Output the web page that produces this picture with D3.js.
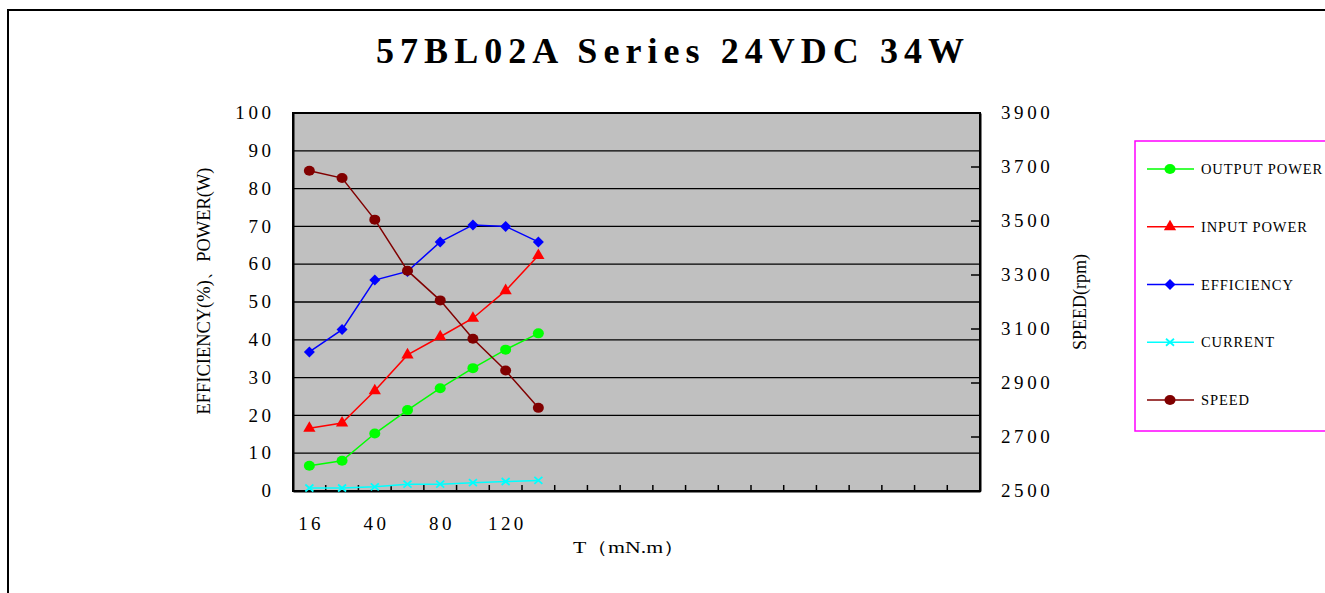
<!DOCTYPE html>
<html><head><meta charset="utf-8">
<script src="https://cdn.jsdelivr.net/npm/d3@7"></script>
<style>
html,body{margin:0;padding:0;background:#fff;}
svg text{font-family:"Liberation Serif","Times New Roman",serif;fill:#000;}
</style></head>
<body><svg id="chart" width="1325" height="593"></svg>
<script>
const title = "57BL02A Series 24VDC 34W";
const categories = ["16","28","40","60","80","100","120","140","","","","","","","","","","","","",""];
const outputPower = [6.7, 8.0, 15.2, 21.4, 27.2, 32.5, 37.4, 41.7];
const inputPower = [16.6, 18.0, 26.5, 36.0, 40.8, 45.7, 53.0, 62.3];
const efficiency = [36.8, 42.7, 55.8, 58.1, 65.9, 70.4, 70.0, 65.9];
const current = [0.8, 0.8, 1.1, 1.8, 1.8, 2.2, 2.5, 2.8];
const speed = [3686, 3659, 3505, 3316, 3206, 3064, 2946, 2808];
const leftTicks = [0,10,20,30,40,50,60,70,80,90,100];
const rightTicks = [2500,2700,2900,3100,3300,3500,3700,3900];
const seriesNames = ["OUTPUT POWER","INPUT POWER","EFFICIENCY","CURRENT","SPEED"];

const svg = d3.select("#chart");
const L = 293, R = 980, T = 113, B = 491;

// outer frame
svg.append("path").attr("d", d3.line()([[8,600],[8,10],[1330,10]]))
  .attr("fill","none").attr("stroke","#000").attr("stroke-width",2);

svg.append("text").attr("x",376).attr("y",63).attr("font-size",36).attr("font-weight","bold")
  .attr("textLength",588).attr("lengthAdjust","spacing").text(title);

const x = d3.scaleBand().domain(d3.range(categories.length)).range([L,R]).paddingInner(0).paddingOuter(0);
const yL = d3.scaleLinear().domain([0,100]).range([B,T]);
const yR = d3.scaleLinear().domain([2500,3900]).range([B,T]);

svg.append("rect").attr("x",L).attr("y",T).attr("width",R-L).attr("height",B-T).attr("fill","#c0c0c0");

// gridlines
svg.append("g").selectAll("line").data(leftTicks).join("line")
  .attr("x1",L).attr("x2",R).attr("y1",d=>yL(d)).attr("y2",d=>yL(d))
  .attr("stroke","#000").attr("stroke-width",1.3);

// left axis
const gl = svg.append("g").attr("transform",`translate(${L},0)`)
  .call(d3.axisLeft(yL).tickValues(leftTicks).tickSize(0).tickPadding(22).tickFormat(d3.format("d")));
gl.select(".domain").attr("stroke","#000").attr("stroke-width",2);
gl.selectAll("text").attr("font-size",19).attr("letter-spacing","3.6px").attr("dx","3.6").attr("dy","0.3em")
  .style("font-family","Liberation Serif");

// right axis
const gr = svg.append("g").attr("transform",`translate(${R},0)`)
  .call(d3.axisRight(yR).tickValues(rightTicks).tickSize(0).tickPadding(21).tickFormat(d3.format("d")));
gr.select(".domain").attr("stroke","#000").attr("stroke-width",2);
gr.selectAll("text").attr("font-size",19).attr("letter-spacing","3.6px").attr("dy","0.3em")
  .style("font-family","Liberation Serif");
svg.append("g").selectAll("line").data(rightTicks.slice(1,-1)).join("line")
  .attr("x1",R-9).attr("x2",R).attr("y1",d=>yR(d)).attr("y2",d=>yR(d))
  .attr("stroke","#000").attr("stroke-width",1.5);

// bottom axis
const gb = svg.append("g").attr("transform",`translate(0,${B})`)
  .call(d3.axisBottom(x).tickSize(0).tickPadding(26).tickFormat((d,i)=> i%2===0 ? categories[i] : ""));
gb.select(".domain").attr("stroke","#000").attr("stroke-width",2);
gb.selectAll("text").attr("font-size",19).attr("letter-spacing","3.4px").attr("dx","1.7")
  .style("font-family","Liberation Serif");
svg.append("g").selectAll("line").data(d3.range(1,categories.length)).join("line")
  .attr("x1",d=>x(d)).attr("x2",d=>x(d)).attr("y1",B).attr("y2",B-6)
  .attr("stroke","#000").attr("stroke-width",1.5);

// plot border
svg.append("rect").attr("x",L).attr("y",T).attr("width",R-L).attr("height",B-T)
  .attr("fill","none").attr("stroke","#000").attr("stroke-width",2);

// axis titles
svg.append("text").attr("transform","translate(210,291) rotate(-90)").attr("text-anchor","middle")
  .attr("font-size",18).attr("textLength",247).attr("lengthAdjust","spacingAndGlyphs")
  .text("EFFICIENCY(%)、POWER(W)");
svg.append("text").attr("transform","translate(1086,302) rotate(-90)").attr("text-anchor","middle")
  .attr("font-size",18).attr("textLength",96).attr("lengthAdjust","spacingAndGlyphs")
  .text("SPEED(rpm)");
svg.append("text").attr("x",629).attr("y",553).attr("text-anchor","middle")
  .attr("font-size",17).attr("textLength",112).attr("lengthAdjust","spacingAndGlyphs")
  .text("T（mN.m）");

// series
const cx = i => x(i) + x.bandwidth()/2;
const series = [
  {name:seriesNames[0], data:outputPower, y:yL, color:"#00ff00", marker:"circle"},
  {name:seriesNames[1], data:inputPower, y:yL, color:"#ff0000", marker:"triangle"},
  {name:seriesNames[2], data:efficiency, y:yL, color:"#0000ff", marker:"diamond"},
  {name:seriesNames[3], data:current, y:yL, color:"#00ffff", marker:"x"},
  {name:seriesNames[4], data:speed, y:yR, color:"#800000", marker:"circle"}
];
function drawMarker(g, type, color, px, py){
  if(type==="circle"){
    g.append("ellipse").attr("cx",px).attr("cy",py).attr("rx",5.5).attr("ry",5).attr("fill",color);
  } else if(type==="triangle"){
    g.append("path").attr("d",d3.symbol().type(d3.symbolTriangle).size(65)())
      .attr("transform",`translate(${px},${py})`).attr("fill",color);
  } else if(type==="diamond"){
    g.append("path").attr("d",`M${px},${py-5.5}L${px+5.5},${py}L${px},${py+5.5}L${px-5.5},${py}Z`).attr("fill",color);
  } else if(type==="x"){
    g.append("path").attr("d",`M${px-4},${py-3.5}L${px+4},${py+3.5}M${px-4},${py+3.5}L${px+4},${py-3.5}`)
      .attr("stroke",color).attr("stroke-width",1.8);
  }
}
series.forEach(s=>{
  const g = svg.append("g");
  g.append("path").datum(s.data)
    .attr("d", d3.line().x((d,i)=>cx(i)).y(d=>s.y(d)))
    .attr("fill","none").attr("stroke",s.color).attr("stroke-width",1.5);
  s.data.forEach((d,i)=>drawMarker(g, s.marker, s.color, cx(i), s.y(d)));
});

// legend
const lg = svg.append("g");
lg.append("rect").attr("x",1135).attr("y",141).attr("width",200).attr("height",290)
  .attr("fill","#fff").attr("stroke","#ff00ff").attr("stroke-width",1.5);
const ly = d3.scalePoint().domain(seriesNames).range([169,400]);
series.forEach(s=>{
  const yy = ly(s.name);
  lg.append("line").attr("x1",1147).attr("x2",1194).attr("y1",yy).attr("y2",yy)
    .attr("stroke",s.color).attr("stroke-width",1.3);
  drawMarker(lg, s.marker, s.color, 1170, yy);
  lg.append("text").attr("x",1201).attr("y",yy+5).attr("font-size",14.5).attr("letter-spacing","0.9px")
    .text(s.name);
});
</script></body></html>
